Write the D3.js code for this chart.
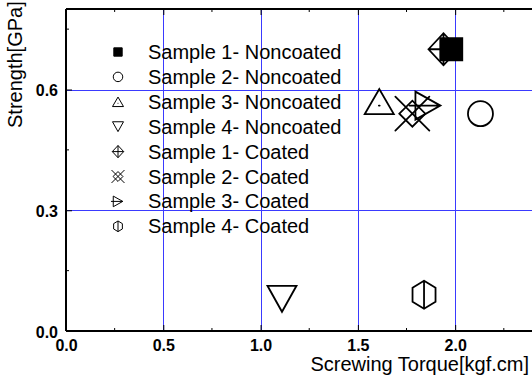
<!DOCTYPE html>
<html>
<head>
<meta charset="utf-8">
<script src="https://cdn.jsdelivr.net/npm/d3@7"></script>
<style>
  body { margin: 0; background: #fff; }
  svg { display: block; font-family: 'Liberation Sans', Arial, sans-serif; }
  .tick-label { font-size: 16px; font-weight: bold; fill: #000; }
  .title { font-size: 20px; fill: #000; }
  .legend-text { font-size: 20px; fill: #000; }
  .grid line { stroke: #3a3aff; stroke-width: 1; }
</style>
</head>
<body>
<svg id="chart" width="532" height="378"></svg>
<script>
// data
const sampleNames = [
  'Sample 1- Noncoated',
  'Sample 2- Noncoated',
  'Sample 3- Noncoated',
  'Sample 4- Noncoated',
  'Sample 1- Coated',
  'Sample 2- Coated',
  'Sample 3- Coated',
  'Sample 4- Coated',
];
const torque = [1.98, 2.13, 1.61, 1.11, 1.94, 1.78, 1.86, 1.84];
const strength = [0.70, 0.54, 0.57, 0.08, 0.70, 0.54, 0.56, 0.09];
const markerTypes = ['squareFill', 'circle', 'triUp', 'triDown', 'diamondPlus', 'xDiamond', 'triRight', 'hexLine'];

const xTicks = [0, 0.5, 1.0, 1.5, 2.0];
const yTicks = [0, 0.3, 0.6];
const xMinor = [0.25, 0.75, 1.25, 1.75, 2.25];
const yMinor = [0.15, 0.45, 0.75];

const svg = d3.select('#chart');
const plotLeft = 66, plotTop = 9, plotBottom = 331;
const plotW = 467;

const xScale = d3.scaleLinear().domain([0, 2.4]).range([plotLeft, plotLeft + plotW]);
const yScale = d3.scaleLinear().domain([0, 0.8]).range([plotBottom, plotTop]);

// grid lines
const grid = svg.append('g').attr('class', 'grid');
grid.selectAll('.gx').data(xTicks.filter(d => d > 0)).enter().append('line')
  .attr('x1', d => Math.round(xScale(d)) + 0.5).attr('x2', d => Math.round(xScale(d)) + 0.5)
  .attr('y1', plotTop).attr('y2', plotBottom);
grid.selectAll('.gy').data(yTicks.filter(d => d > 0)).enter().append('line')
  .attr('y1', d => Math.round(yScale(d)) + 0.5).attr('y2', d => Math.round(yScale(d)) + 0.5)
  .attr('x1', plotLeft).attr('x2', 532);

// axes: ticks point inwards, labels placed by hand
const fmt = d3.format('.1f');
const xAxis = svg.append('g').attr('transform', `translate(0, ${plotBottom})`)
  .call(d3.axisBottom(xScale).tickValues(xTicks).tickSizeInner(-6).tickSizeOuter(0).tickFormat(''));
xAxis.append('g').selectAll('line').data(xMinor).enter().append('line')
  .attr('x1', d => xScale(d)).attr('x2', d => xScale(d)).attr('y1', 0).attr('y2', -3)
  .attr('stroke', '#000');
xAxis.selectAll('.tick').append('text')
  .attr('class', 'tick-label').attr('y', 20).attr('text-anchor', 'middle')
  .text(d => fmt(d));

const yAxis = svg.append('g').attr('transform', `translate(${plotLeft}, 0)`)
  .call(d3.axisLeft(yScale).tickValues(yTicks).tickSizeInner(-6).tickSizeOuter(0).tickFormat(''));
yAxis.append('g').selectAll('line').data(yMinor).enter().append('line')
  .attr('y1', d => yScale(d)).attr('y2', d => yScale(d)).attr('x1', 0).attr('x2', 3)
  .attr('stroke', '#000');
yAxis.selectAll('.tick').append('text')
  .attr('class', 'tick-label').attr('x', -8).attr('dy', 6).attr('text-anchor', 'end')
  .text(d => fmt(d));

// top border with mirrored ticks
const topAxis = svg.append('g').attr('transform', `translate(0, ${plotTop})`)
  .call(d3.axisTop(xScale).tickValues(xTicks).tickSizeInner(-6).tickSizeOuter(0).tickFormat(''));
topAxis.append('g').selectAll('line').data(xMinor).enter().append('line')
  .attr('x1', d => xScale(d)).attr('x2', d => xScale(d)).attr('y1', 0).attr('y2', 3)
  .attr('stroke', '#000');

svg.selectAll('.domain').attr('stroke', '#000').attr('stroke-width', 2);
topAxis.select('.domain').attr('d', `M${plotLeft},0H532`);
xAxis.select('.domain').attr('d', `M${plotLeft},0H532`);
yAxis.select('.domain').attr('d', `M0,${plotTop}V${plotBottom}`);

// axis titles
svg.append('text').attr('class', 'title')
  .attr('x', 529).attr('y', 371).attr('text-anchor', 'end')
  .text('Screwing Torque[kgf.cm]');
svg.append('text').attr('class', 'title')
  .attr('transform', 'translate(22, 128) rotate(-90)')
  .text('Strength[GPa]');

// marker shapes, k = scale
const shape = (type, k) => {
  const p = d3.path();
  if (type === 'squareFill') {
    p.rect(-11 * k, -11 * k, 22 * k, 22 * k);
  } else if (type === 'circle') {
    p.arc(0, 0, 12.5 * k, 0, Math.PI * 2);
  } else if (type === 'triUp') {
    p.moveTo(-14.5 * k, 12.5 * k); p.lineTo(0, -12.5 * k); p.lineTo(14.5 * k, 12.5 * k); p.closePath();
    p.moveTo(-0.4, 4 * k); p.lineTo(0.4, 4 * k);
  } else if (type === 'triDown') {
    p.moveTo(-14.5 * k, -13 * k); p.lineTo(14.5 * k, -13 * k); p.lineTo(0, 13 * k); p.closePath();
  } else if (type === 'diamondPlus') {
    p.moveTo(-15 * k, 0); p.lineTo(0, -16 * k); p.lineTo(15 * k, 0); p.lineTo(0, 16 * k); p.closePath();
    p.moveTo(-15 * k, 0); p.lineTo(15 * k, 0);
    p.moveTo(0, -16 * k); p.lineTo(0, 16 * k);
  } else if (type === 'xDiamond') {
    p.moveTo(-17 * k, -17 * k); p.lineTo(17 * k, 17 * k);
    p.moveTo(-17 * k, 17 * k); p.lineTo(17 * k, -17 * k);
    p.moveTo(-13 * k, 0); p.lineTo(0, -13 * k); p.lineTo(13 * k, 0); p.lineTo(0, 13 * k); p.closePath();
  } else if (type === 'triRight') {
    p.moveTo(-12.5 * k, -14 * k); p.lineTo(12.5 * k, 0); p.lineTo(-12.5 * k, 14 * k); p.closePath();
    p.moveTo(-18.5 * k, 0); p.lineTo(12.5 * k, 0);
  } else if (type === 'hexLine') {
    p.moveTo(0, -14 * k); p.lineTo(11.5 * k, -7 * k); p.lineTo(11.5 * k, 7 * k);
    p.lineTo(0, 14 * k); p.lineTo(-11.5 * k, 7 * k); p.lineTo(-11.5 * k, -7 * k); p.closePath();
    p.moveTo(0, -14 * k); p.lineTo(0, 14 * k);
  }
  return p.toString();
};

const points = sampleNames.map((name, i) => ({
  name, x: torque[i], y: strength[i], type: markerTypes[i],
}));

// legend
const legend = svg.append('g');
const legendRows = legend.selectAll('g').data(points).enter().append('g')
  .attr('transform', (d, i) => `translate(118, ${52 + i * 24.9})`);
legendRows.append('path')
  .attr('d', d => shape(d.type, 0.38))
  .attr('fill', d => (d.type === 'squareFill' ? '#000' : 'none'))
  .attr('stroke', '#000').attr('stroke-width', 1);
legendRows.append('text').attr('class', 'legend-text')
  .attr('x', 30).attr('y', 7)
  .text(d => d.name);

// data markers
svg.append('g').selectAll('path').data(points).enter().append('path')
  .attr('transform', d => `translate(${xScale(d.x)}, ${yScale(d.y)})`)
  .attr('d', d => shape(d.type, 1))
  .attr('fill', d => (d.type === 'squareFill' ? '#000' : 'none'))
  .attr('stroke', '#000').attr('stroke-width', 1.8)
  .attr('stroke-linecap', 'round');
</script>
</body>
</html>
